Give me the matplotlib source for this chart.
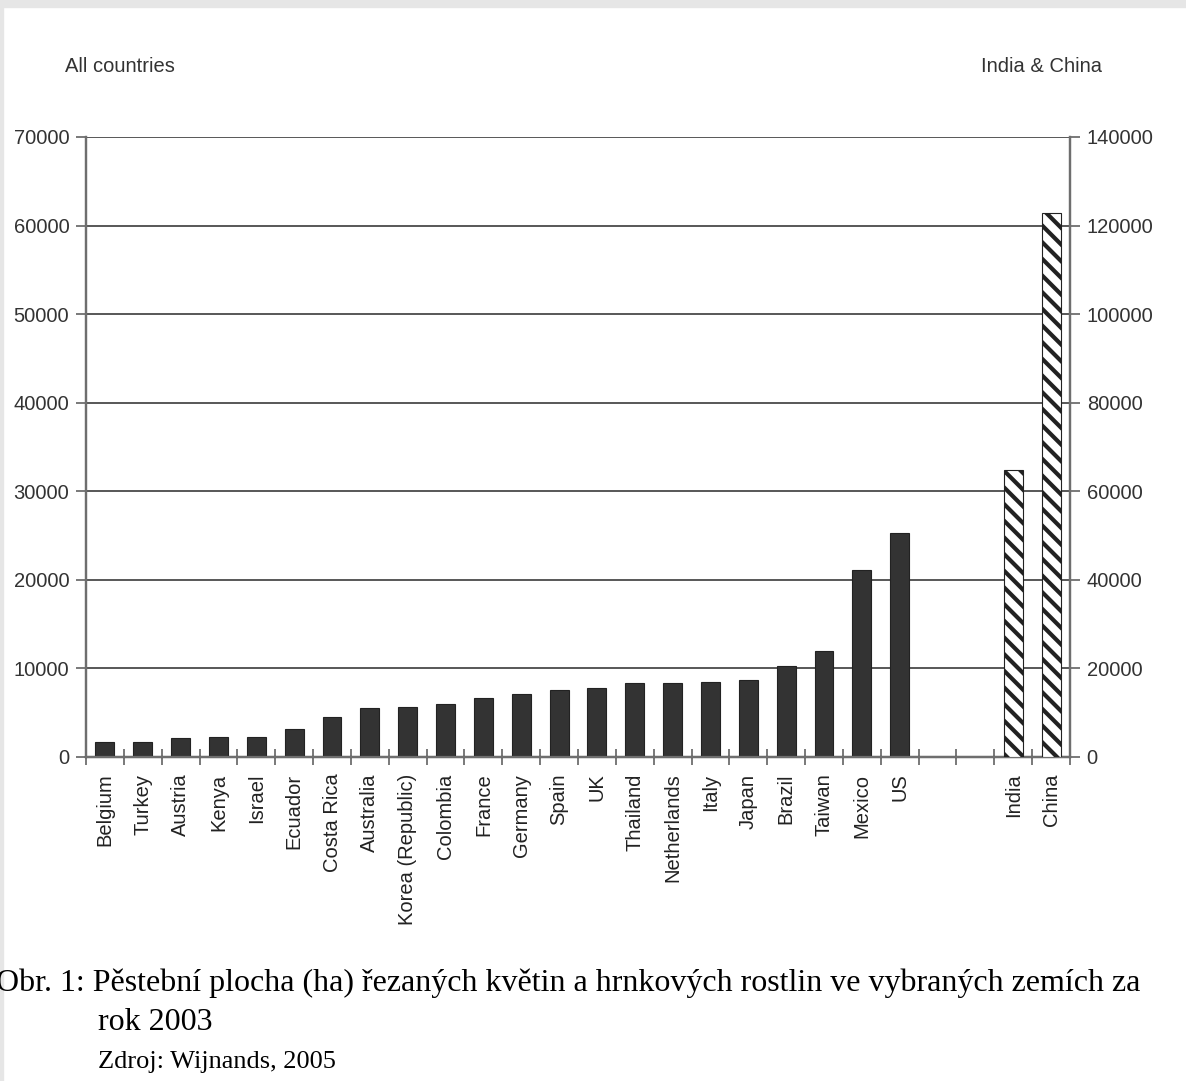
import numpy as np
import matplotlib
matplotlib.use('Agg')
import matplotlib.pyplot as plt
from matplotlib.patches import Rectangle

plt.rcParams['font.family'] = ['Liberation Sans', 'DejaVu Sans']
plt.rcParams['hatch.linewidth'] = 3.0
plt.rcParams['hatch.color'] = 'black'

# Cultivated area (ha), 2003
countries = ['Belgium', 'Turkey', 'Austria', 'Kenya', 'Israel', 'Ecuador',
             'Costa Rica', 'Australia', 'Korea (Republic)', 'Colombia', 'France',
             'Germany', 'Spain', 'UK', 'Thailand', 'Netherlands', 'Italy', 'Japan',
             'Brazil', 'Taiwan', 'Mexico', 'US']
area = [1700, 1650, 2100, 2300, 2300, 3200, 4550, 5500, 5600, 5930, 6700,
        7150, 7600, 7800, 8370, 8370, 8520, 8710, 10330, 12000, 21100, 25300]

big_countries = ['India', 'China']
big_area = [64900, 122800]

n_gap = 2  # empty slots between US and India

GRID = '#4a4a4a'
SPINE = '#6e6e6e'
BAR = '#333333'

fig = plt.figure(figsize=(11.86, 10.81), dpi=100)
fig.patch.set_facecolor('white')
# grey page border seen in the scan
fig.patches.append(Rectangle((0, 1 - 7 / 1081), 1, 7 / 1081, transform=fig.transFigure,
                             color='#e6e6e6', zorder=-1))
fig.patches.append(Rectangle((0, 0), 3 / 1186, 1, transform=fig.transFigure,
                             color='#e6e6e6', zorder=-1))

ax = fig.add_axes([86 / 1186, (1081 - 757) / 1081, (1070 - 86) / 1186, (757 - 137) / 1081])
ax2 = ax.twinx()

x_small = np.arange(len(countries))
x_big = np.arange(len(big_countries)) + len(countries) + n_gap
n_slots = len(countries) + n_gap + len(big_countries)

ax.set_ylim(0, 70000)
ax2.set_ylim(0, 140000)
ax.set_xlim(-0.5, n_slots - 0.5)

ax.set_yticks(np.arange(0, 70001, 10000))
ax2.set_yticks(np.arange(0, 140001, 20000))
for y in np.arange(10000, 70001, 10000):
    ax.axhline(y, color=GRID, lw=1.3, zorder=1)

ax.bar(x_small, area, width=0.5, color=BAR, edgecolor='#222222', lw=0.8, zorder=3)
ax2.bar(x_big, big_area, width=0.5, color='white', edgecolor='#222222', lw=0.8,
        hatch='\\\\', zorder=3)

ax.set_xticks(list(x_small) + list(x_big))
ax.set_xticklabels(countries + big_countries, rotation=90, fontsize=14.5, color='#222222')
ax.tick_params(axis='x', which='major', length=0, pad=12)
ax.set_xticks(np.arange(-0.5, n_slots, 1.0), minor=True)
ax.tick_params(axis='x', which='minor', direction='inout', length=12, width=1.3, color=SPINE)

ax.tick_params(axis='y', direction='out', length=7, width=1.3, color=SPINE,
               labelsize=14.5, labelcolor='#333333', pad=5)
ax2.tick_params(axis='y', direction='out', length=7, width=1.3, color=SPINE,
                labelsize=14.5, labelcolor='#333333', pad=5)

for a in (ax, ax2):
    a.spines['top'].set_visible(False)
    for s in ('left', 'right', 'bottom'):
        a.spines[s].set_color(SPINE)
        a.spines[s].set_linewidth(1.6)
ax.spines['bottom'].set_color('#333333')

fig.text(65 / 1186, 1 - 67 / 1081, 'All countries', fontsize=14.5, color='#333333',
         ha='left', va='center')
fig.text(981 / 1186, 1 - 67 / 1081, 'India & China', fontsize=14.5, color='#333333',
         ha='left', va='center')

serif = ['Liberation Serif', 'DejaVu Serif']
fig.text(1140 / 1186, 1 - 983 / 1081,
         'Obr. 1: Pěstební plocha (ha) řezaných květin a hrnkových rostlin ve vybraných zemích za',
         fontsize=23, family=serif, ha='right', va='center', color='black')
fig.text(98 / 1186, 1 - 1022 / 1081, 'rok 2003', fontsize=23, family=serif,
         ha='left', va='center', color='black')
fig.text(98 / 1186, 1 - 1062 / 1081, 'Zdroj: Wijnands, 2005', fontsize=19, family=serif,
         ha='left', va='center', color='black')

fig.savefig('out.png', dpi=100, facecolor=fig.get_facecolor())
